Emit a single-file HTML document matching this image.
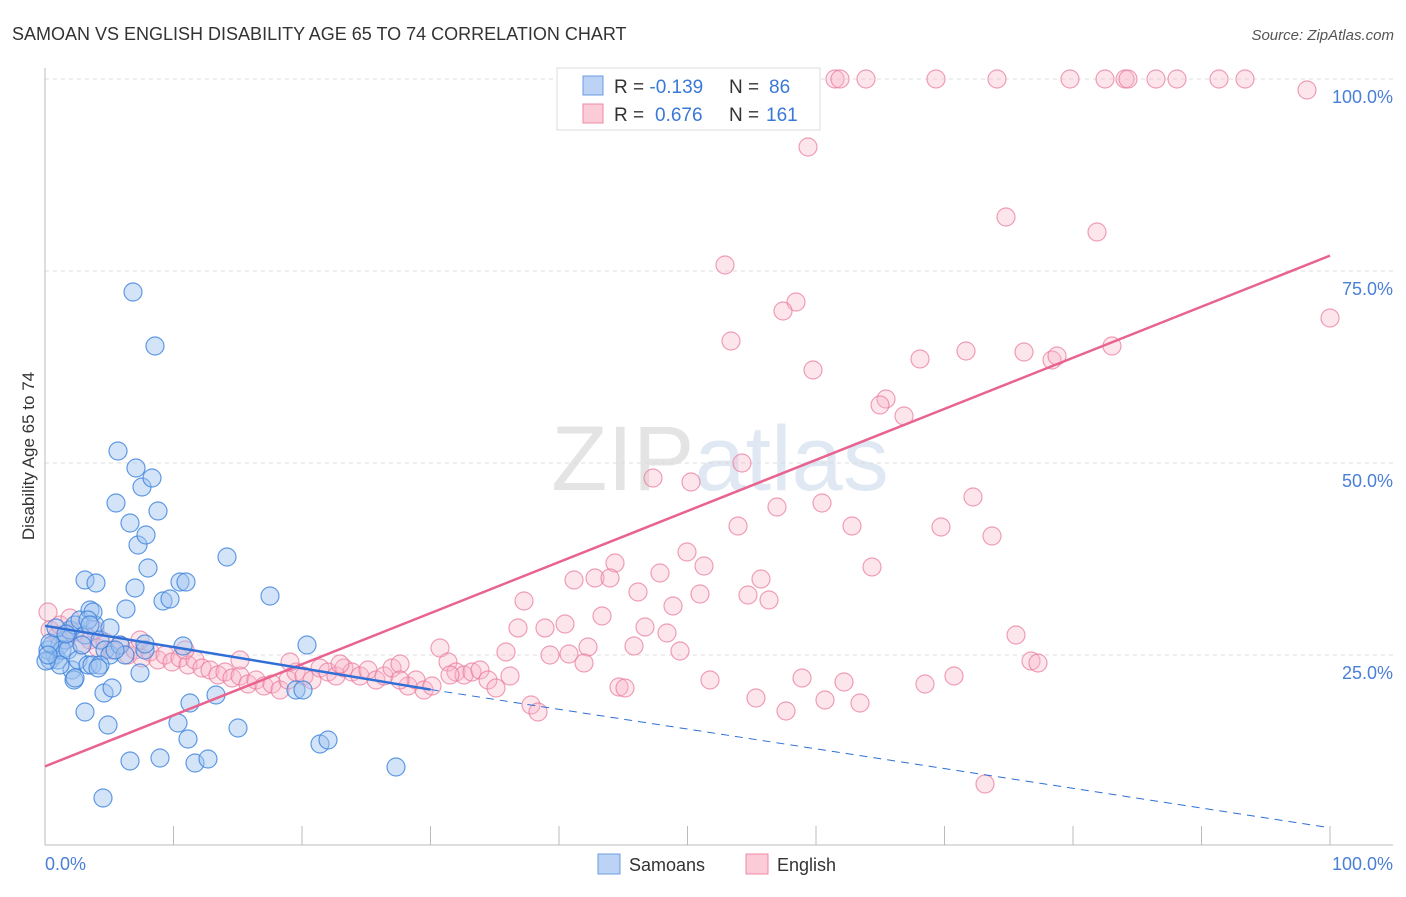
<!DOCTYPE html>
<html><head><meta charset="utf-8"><style>
body{margin:0;background:#fff;font-family:"Liberation Sans",sans-serif;}
svg text{font-family:"Liberation Sans",sans-serif;}
</style></head><body>
<svg width="1406" height="892">
<text x="12" y="40" font-size="18" fill="#333">SAMOAN VS ENGLISH DISABILITY AGE 65 TO 74 CORRELATION CHART</text>
<text x="1394" y="40" font-size="15" fill="#555" text-anchor="end" font-style="italic">Source: ZipAtlas.com</text>
<text x="720" y="490" font-size="92" fill="#e4e4e4" text-anchor="middle" font-family="Liberation Serif">ZIP<tspan fill="#dfe8f3" font-family="Liberation Sans">atlas</tspan></text>
<g id="grid"></g>
<line x1="45" y1="68" x2="45" y2="845" stroke="#bbb"/>
<line x1="45" y1="845" x2="1393" y2="845" stroke="#bbb"/>
<text x="34" y="456" font-size="17" fill="#333" text-anchor="middle" transform="rotate(-90 34 456)">Disability Age 65 to 74</text>
<text x="45" y="870" font-size="18" fill="#4a7fd6">0.0%</text>
<text x="1393" y="870" font-size="18" fill="#4a7fd6" text-anchor="end">100.0%</text>
<g id="pts"></g>
<g id="lines"></g>
<g>
<rect x="557" y="68" width="263" height="62" fill="#fff" stroke="#ddd"/>
<rect x="583" y="76" width="20" height="19" fill="#bcd3f5" stroke="#6b9be0"/>
<rect x="583" y="104" width="20" height="19" fill="#fbcbd8" stroke="#ec8aa6"/>
<text x="614" y="93" font-size="19" fill="#333">R = <tspan fill="#3a78d8">-0.139</tspan><tspan x="729">N = </tspan><tspan fill="#3a78d8" x="769">86</tspan></text>
<text x="614" y="121" font-size="19" fill="#333">R = <tspan fill="#3a78d8" x="655">0.676</tspan><tspan x="729">N = </tspan><tspan fill="#3a78d8" x="766">161</tspan></text>
</g>
<g>
<rect x="598" y="854" width="22" height="20" fill="#bcd3f5" stroke="#6b9be0"/>
<text x="629" y="871" font-size="18" fill="#333">Samoans</text>
<rect x="746" y="854" width="22" height="20" fill="#fbcbd8" stroke="#ec8aa6"/>
<text x="777" y="871" font-size="18" fill="#333">English</text>
</g>
</svg>
<script>
const yTicks=[25,50,75,100];
const xTicks=[0,10,20,30,40,50,60,70,80,90,100];
// blue points in pixel-read form converted to percentages
const bluePx=[[50,660],[55,655],[48,650],[60,645],[65,640],[70,630],[75,625],[80,620],[85,635],[90,610],[95,625],[100,640],[105,650],[110,655],[120,645],[125,655],[52,645],[58,660],[62,650],[68,650],[72,670],[74,680],[78,660],[82,645],[85,580],[96,583],[93,612],[88,665],[92,665],[100,665],[104,693],[108,725],[112,688],[118,451],[116,503],[130,523],[136,468],[138,545],[142,487],[146,535],[148,568],[152,478],[158,511],[155,346],[133,292],[126,609],[135,588],[145,650],[163,601],[170,599],[180,582],[186,582],[183,646],[178,723],[188,739],[190,703],[195,763],[208,759],[216,695],[227,557],[238,728],[270,596],[296,690],[303,690],[307,645],[320,744],[328,740],[396,767],[103,798],[130,761],[160,758],[85,712],[75,678],[50,643],[56,628],[98,668],[88,620],[140,673],[145,644],[115,650],[60,665],[66,634],[46,661],[48,655],[110,628],[90,625]];
const pinkPx=[[717,79],[835,79],[840,79],[866,79],[936,79],[997,79],[1070,79],[1105,79],[1125,79],[1128,79],[1156,79],[1177,79],[1219,79],[1245,79],[1307,90],[808,147],[1006,217],[1097,232],[725,265],[796,302],[783,311],[731,341],[1330,318],[813,370],[920,359],[966,351],[1024,352],[1052,360],[1057,356],[1112,346],[886,399],[880,405],[904,416],[742,463],[653,478],[691,482],[738,526],[777,507],[822,503],[852,526],[941,527],[973,497],[992,536],[687,552],[704,566],[660,573],[615,563],[574,580],[595,578],[610,578],[761,579],[872,567],[638,592],[673,606],[700,594],[748,595],[769,600],[524,601],[602,616],[518,628],[545,628],[565,624],[645,627],[667,633],[588,647],[634,646],[680,651],[550,655],[569,654],[584,663],[1016,635],[1031,661],[1038,663],[440,648],[506,652],[710,680],[802,678],[844,682],[925,684],[954,676],[756,698],[825,700],[860,703],[786,711],[531,705],[538,712],[619,687],[625,688],[985,784],[48,612],
[50,630],[58,635],[66,640],[75,632],[82,645],[90,640],[98,648],[105,642],[112,650],[120,645],[128,655],[135,650],[142,658],[150,652],[158,660],[165,655],[172,662],[180,658],[188,665],[195,660],[202,668],[210,670],[218,675],[225,672],[232,678],[240,676],[248,684],[256,680],[264,686],[272,684],[280,690],[288,680],[296,672],[304,676],[312,680],[320,668],[328,672],[336,676],[344,668],[352,672],[360,676],[368,670],[376,680],[384,676],[392,668],[400,664],[408,686],[416,680],[424,690],[432,686],[448,662],[456,672],[464,675],[472,672],[480,670],[488,680],[496,688],[510,676],[60,625],[70,618],[95,630],[140,640],[185,650],[240,660],[290,662],[340,664],[400,680],[450,675]];
const blueLine=[[0,28.8],[30,20.5]];
const blueDash=[[30,20.5],[100,2.5]];
const pinkLine=[[0,10.5],[100,77]];
const X=v=>45+v*12.85, Y=v=>847-v*7.68;
const toPct=p=>[(p[0]-45)/12.85,(847-p[1])/7.68];
const blueX=bluePx.map(p=>toPct(p)[0]), blueY=bluePx.map(p=>toPct(p)[1]);
const pinkX=pinkPx.map(p=>toPct(p)[0]), pinkY=pinkPx.map(p=>toPct(p)[1]);
const NS="http://www.w3.org/2000/svg";
const grid=document.getElementById('grid');
yTicks.forEach(t=>{
 const l=document.createElementNS(NS,'line');
 
 
 l.setAttribute('x1',45);l.setAttribute('x2',1393);l.setAttribute('y1',Y(t));l.setAttribute('y2',Y(t));
 l.setAttribute('stroke','#ddd');l.setAttribute('stroke-dasharray','4,4');grid.appendChild(l);
 const tx=document.createElementNS(NS,'text');
 
 
 tx.setAttribute('x',1393);tx.setAttribute('y',Y(t)+24);tx.setAttribute('text-anchor','end');
 tx.setAttribute('font-size','18');tx.setAttribute('fill','#4a7fd6');tx.textContent=t.toFixed(1)+'%';grid.appendChild(tx);
});
xTicks.forEach(t=>{
 const l=document.createElementNS(NS,'line');
 
 
 l.setAttribute('x1',X(t));l.setAttribute('x2',X(t));l.setAttribute('y1',826);l.setAttribute('y2',845);
 l.setAttribute('stroke','#bbb');grid.appendChild(l);
});
const pts=document.getElementById('pts');
function dot(x,y,fill,stroke,name){
 const c=document.createElementNS(NS,'circle');
 
 
 c.setAttribute('cx',X(x));c.setAttribute('cy',Y(y));c.setAttribute('r',9);
 c.setAttribute('fill',fill);c.setAttribute('stroke',stroke);c.setAttribute('stroke-width','1.2');pts.appendChild(c);
}
pinkX.forEach((x,i)=>dot(x,pinkY[i],'rgba(248,180,200,0.35)','rgba(232,120,155,0.7)','english-point'));
blueX.forEach((x,i)=>dot(x,blueY[i],'rgba(160,195,240,0.45)','rgba(60,130,220,0.8)','samoan-point'));
const lines=document.getElementById('lines');
function ln(a,col,w,dash,name){
 const l=document.createElementNS(NS,'line');
 
 
 l.setAttribute('x1',X(a[0][0]));l.setAttribute('y1',Y(a[0][1]));l.setAttribute('x2',X(a[1][0]));l.setAttribute('y2',Y(a[1][1]));
 l.setAttribute('stroke',col);l.setAttribute('stroke-width',w);if(dash)l.setAttribute('stroke-dasharray',dash);lines.appendChild(l);
}
ln(pinkLine,'#e8638f',2.5,null,'english-trendline');
ln(blueLine,'#2f6fd6',2.5,null,'samoan-trendline');
ln(blueDash,'#2f6fd6',1,'8,6','samoan-trendline-extension');
</script>
</body></html>
